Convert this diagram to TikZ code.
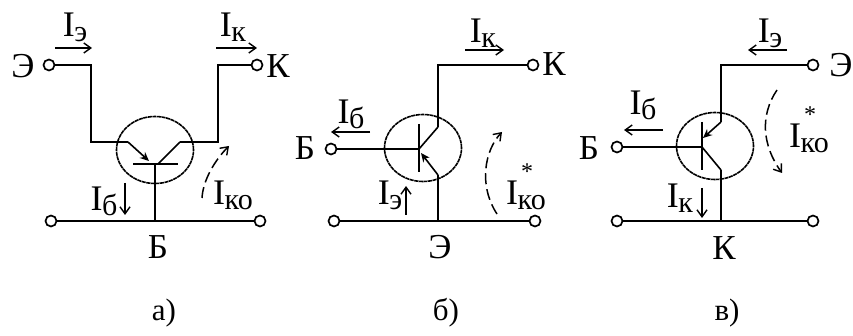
\documentclass[tikz,border=0pt]{standalone}
\usepackage{fontspec}
\setmainfont{Liberation Serif}
\usetikzlibrary{arrows.meta,shapes.geometric}
\newcommand{\curlab}[1]{{\fontsize{36}{36}\selectfont I}\kern-0.5pt\raisebox{-5pt}{\fontsize{30}{30}\selectfont #1}}
\tikzset{x=1pt,y=-1pt,
 wire/.style={line width=2pt,line join=miter},
 term/.style={circle,draw,line width=1.7pt,minimum size=11pt,inner sep=0,fill=white},
 body/.style={ellipse,draw,line width=1.6pt,dash pattern=on 4pt off 0.6pt,minimum width=77pt,minimum height=67pt,inner sep=0},
 curarrow/.style={line width=1.6pt,-{Straight Barb[length=7pt,width=10pt,line width=1.4pt]}},
 jarrow/.style={line width=1.6pt,-{Stealth[length=9pt,width=8pt]}},
 dasharrow/.style={line width=1.5pt,dash pattern=on 11pt off 5pt,-{Straight Barb[length=7pt,width=10pt,line width=1.4pt]}},
 lab/.style={inner sep=0,font=\fontsize{35}{35}\selectfont},
 cur/.style={inner sep=0},
 starmark/.style={inner sep=0,font=\fontsize{24}{24}\selectfont},
 captext/.style={inner sep=0,font=\fontsize{31}{31}\selectfont}}
\begin{document}
\begin{tikzpicture}
\useasboundingbox (0,0) rectangle (853,336);
% ---------- a
\node[body] (ca) at (155,150) {};
\node[term] (aE) at (49,65) {};
\node[term] (aK) at (257,65) {};
\node[term] (aL) at (51,221) {};
\node[term] (aR) at (260,221) {};
\coordinate (aBase) at (155,164);
\coordinate (aBus) at (155,221);
\coordinate (aEin) at (128,142);
\coordinate (aKin) at (180,142);
\coordinate (aEtip) at (149,161);
\coordinate (aKtip) at (158,164);
\draw[wire] (aE) -| (91,142) -- (aEin);
\draw[wire] (aK) -| (218,142) -- (aKin);
\draw[wire] (aL) -- (aR);
\draw[wire] (aBase) -- (aBus);
\draw[wire] (133,164) -- (178,164);
\draw[jarrow] (aEin) -- (aEtip);
\draw[line width=1.6pt] (aKin) -- (aKtip);
\node[lab] (aLE) at (23,66) {Э};
\node[lab] (aLK) at (278,66) {К};
\node[lab] (aLB) at (158,247) {Б};
\node[captext] (aCap) at (164,313) {а)};
\node[cur] (aIe) at (75,27) {\curlab{э}};
\node[cur] (aIk) at (233,27) {\curlab{к}};
\node[cur] (aIb) at (104,201) {\curlab{б}};
\node[cur] (aIko) at (233,195) {\curlab{ко}};
\coordinate (aA1) at (55,48); \coordinate (aA2) at (92,48);
\coordinate (aA3) at (216,48); \coordinate (aA4) at (257,48);
\coordinate (aA5) at (125,183); \coordinate (aA6) at (125,215);
\coordinate (aD1) at (202,198); \coordinate (aD2) at (229,146);
\draw[curarrow] (aA1) -- (aA2);
\draw[curarrow] (aA3) -- (aA4);
\draw[curarrow] (aA5) -- (aA6);
\draw[dasharrow] (aD1) .. controls (203,180) and (215,160) .. (aD2);
% ---------- b
\node[body] (cb) at (423,148) {};
\node[term] (bK) at (533,65) {};
\node[term] (bB) at (331,149) {};
\node[term] (bL) at (334,221) {};
\node[term] (bR) at (535,221) {};
\coordinate (bBj) at (419,149);
\coordinate (bKc) at (438,118);
\coordinate (bKd) at (438,127);
\coordinate (bEc) at (438,175);
\coordinate (bBus) at (438,221);
\coordinate (bEtip) at (421,153);
\draw[wire] (bK) -| (bKc) -- (bKd);
\draw[wire] (bB) -- (bBj);
\draw[wire] (419,124) -- (419,172);
\draw[wire] (bL) -- (bR);
\draw[wire] (bEc) -- (bBus);
\draw[line width=1.6pt] (bKd) -- (bBj);
\draw[jarrow] (bEc) -- (bEtip);
\node[lab] (bLK) at (554,64) {К};
\node[lab] (bLB) at (305,148) {Б};
\node[lab] (bLE) at (440,247) {Э};
\node[captext] (bCap) at (446,313) {б)};
\node[cur] (bIk) at (483,33) {\curlab{к}};
\node[cur] (bIb) at (351,114) {\curlab{б}};
\node[cur] (bIe) at (390,195) {\curlab{э}};
\node[cur] (bIko) at (526,195) {\curlab{ко}};
\node[starmark] (bStar) at (527,172) {*};
\coordinate (bA1) at (465,50); \coordinate (bA2) at (504,50);
\coordinate (bA3) at (370,132); \coordinate (bA4) at (331,132);
\coordinate (bA5) at (406,215); \coordinate (bA6) at (406,186);
\coordinate (bD1) at (497,214); \coordinate (bD2) at (502,132);
\draw[curarrow] (bA1) -- (bA2);
\draw[curarrow] (bA3) -- (bA4);
\draw[curarrow] (bA5) -- (bA6);
\draw[dasharrow] (bD1) .. controls (478,185) and (485,150) .. (bD2);
% ---------- c
\node[body] (cc) at (715,146) {};
\node[term] (cE) at (813,65) {};
\node[term] (cB) at (617,147) {};
\node[term] (cL) at (617,221) {};
\node[term] (cR) at (813,221) {};
\coordinate (cBj) at (702,147);
\coordinate (cEc) at (721,122);
\coordinate (cEtip) at (703,138);
\coordinate (cKc) at (721,170);
\coordinate (cBus) at (721,221);
\draw[wire] (cE) -| (cEc);
\draw[wire] (cB) -- (cBj);
\draw[wire] (702,122) -- (702,170);
\draw[wire] (cL) -- (cR);
\draw[wire] (cKc) -- (cBus);
\draw[jarrow] (cEc) -- (cEtip);
\draw[line width=1.6pt] (cBj) -- (cKc);
\node[lab] (cLE) at (841,65) {Э};
\node[lab] (cLB) at (589,148) {Б};
\node[lab] (cLK) at (724,248) {К};
\node[captext] (cCap) at (727,313) {в)};
\node[cur] (cIe) at (770,33) {\curlab{э}};
\node[cur] (cIb) at (643,105) {\curlab{б}};
\node[cur] (cIk) at (680,198) {\curlab{к}};
\node[cur] (cIko) at (809,138) {\curlab{ко}};
\node[starmark] (cStar) at (810,115) {*};
\coordinate (cA1) at (787,50); \coordinate (cA2) at (748,50);
\coordinate (cA3) at (663,130); \coordinate (cA4) at (624,130);
\coordinate (cA5) at (702,188); \coordinate (cA6) at (702,218);
\coordinate (cD1) at (777,90); \coordinate (cD2) at (782,173);
\draw[curarrow] (cA1) -- (cA2);
\draw[curarrow] (cA3) -- (cA4);
\draw[curarrow] (cA5) -- (cA6);
\draw[dasharrow] (cD1) .. controls (760,115) and (762,145) .. (cD2);
\end{tikzpicture}
\end{document}
